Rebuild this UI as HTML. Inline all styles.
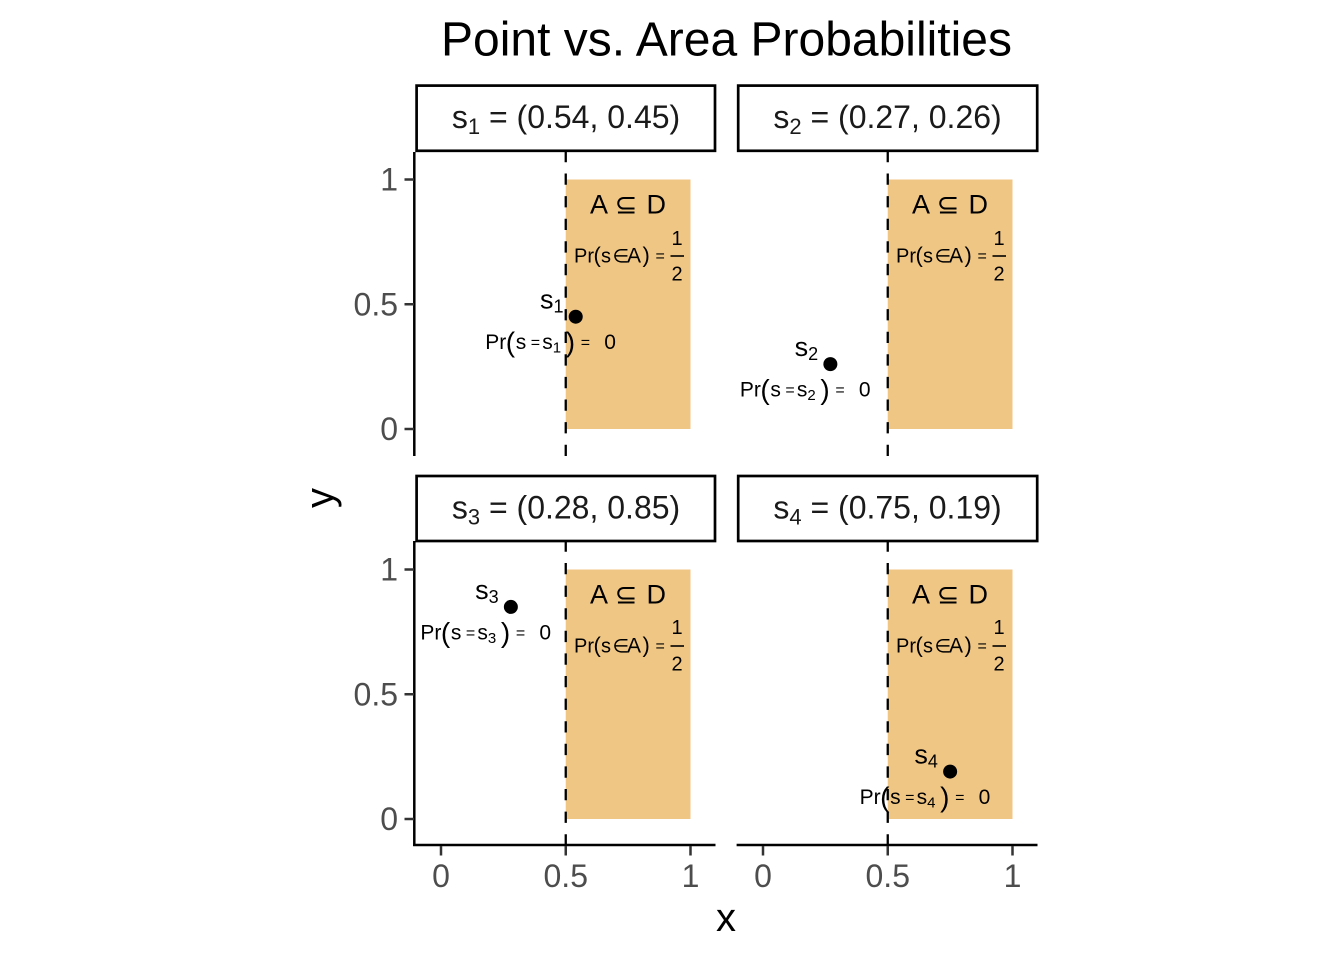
<!DOCTYPE html>
<html><head><meta charset="utf-8"><style>
html,body{margin:0;padding:0;background:#fff;}
svg{display:block;}
text{font-family:"Liberation Sans",Arial,"DejaVu Sans",sans-serif;}
.sym{font-family:"DejaVu Sans","Liberation Sans",sans-serif;}
.tick{fill:#4D4D4D;font-size:32px;}
</style></head><body>
<svg width="1344" height="960" viewBox="0 0 1344 960" xmlns="http://www.w3.org/2000/svg">
<rect x="0" y="0" width="1344" height="960" fill="#fff"/>

<!-- Title -->
<text x="726.5" y="55.5" text-anchor="middle" font-size="48" fill="#000">Point vs. Area Probabilities</text>

<!-- Strips -->
<g fill="#fff" stroke="#000" stroke-width="2.7">
<rect x="416.6" y="85.6" width="298.4" height="65.2"/>
<rect x="738.2" y="85.6" width="299" height="65.2"/>
<rect x="416.6" y="476" width="298.4" height="65"/>
<rect x="738.2" y="476" width="299" height="65"/>
</g>
<g font-size="32" fill="#1A1A1A" text-anchor="middle">
<text x="566" y="128">s<tspan font-size="22" dy="6">1</tspan><tspan dy="-6"> = (0.54, 0.45)</tspan></text>
<text x="887.5" y="128">s<tspan font-size="22" dy="6">2</tspan><tspan dy="-6"> = (0.27, 0.26)</tspan></text>
<text x="566" y="518.5">s<tspan font-size="22" dy="6">3</tspan><tspan dy="-6"> = (0.28, 0.85)</tspan></text>
<text x="887.5" y="518.5">s<tspan font-size="22" dy="6">4</tspan><tspan dy="-6"> = (0.75, 0.19)</tspan></text>
</g>

<!-- Panel 1 -->
<g transform="translate(441,429)">
<rect x="124.75" y="-249.5" width="124.75" height="249.5" fill="#F0C685"/>
<text x="149" y="-215.5" font-size="27">A</text>
<text class="sym" x="185" y="-215.5" font-size="27" text-anchor="middle">⊆</text>
<text x="205.5" y="-215.5" font-size="27">D</text>
<text x="133" y="-166.5" font-size="20">Pr</text>
<text x="152.5" y="-166.7" font-size="22">(</text>
<text x="160" y="-166.5" font-size="20">s</text>
<text class="sym" x="171.5" y="-166.5" font-size="19">∈</text>
<text x="186" y="-166.5" font-size="21">A</text>
<text x="201.5" y="-166.7" font-size="22">)</text>
<text x="214.5" y="-168" font-size="16">=</text>
<text x="236" y="-184" font-size="20" text-anchor="middle">1</text>
<line x1="229.5" y1="-173" x2="243" y2="-173" stroke="#000" stroke-width="1.6"/>
<text x="236" y="-148.3" font-size="20" text-anchor="middle">2</text>
<g transform="translate(134.73,-112.28)">
<text x="-24" y="-8" font-size="27" text-anchor="middle">s<tspan font-size="18" dy="4">1</tspan></text>
<text x="-90.5" y="32.5" font-size="21">Pr</text>
<text x="-70" y="35" font-size="28">(</text>
<text x="-60" y="32.5" font-size="21">s</text>
<text x="-45" y="31" font-size="16">=</text>
<text x="-33.5" y="32.5" font-size="21">s</text>
<text x="-23" y="36" font-size="15">1</text>
<text x="-10" y="35" font-size="28">)</text>
<text x="5" y="31" font-size="16">=</text>
<text x="28.5" y="32.5" font-size="21">0</text>
<circle cx="0" cy="0" r="7" fill="#000"/>
</g>
<line x1="124.75" y1="27" x2="124.75" y2="-277" stroke="#000" stroke-width="2.3" stroke-dasharray="11.3 11.3"/>
</g>

<!-- Panel 2 -->
<g transform="translate(763,429)">
<rect x="124.75" y="-249.5" width="124.75" height="249.5" fill="#F0C685"/>
<text x="149" y="-215.5" font-size="27">A</text>
<text class="sym" x="185" y="-215.5" font-size="27" text-anchor="middle">⊆</text>
<text x="205.5" y="-215.5" font-size="27">D</text>
<text x="133" y="-166.5" font-size="20">Pr</text>
<text x="152.5" y="-166.7" font-size="22">(</text>
<text x="160" y="-166.5" font-size="20">s</text>
<text class="sym" x="171.5" y="-166.5" font-size="19">∈</text>
<text x="186" y="-166.5" font-size="21">A</text>
<text x="201.5" y="-166.7" font-size="22">)</text>
<text x="214.5" y="-168" font-size="16">=</text>
<text x="236" y="-184" font-size="20" text-anchor="middle">1</text>
<line x1="229.5" y1="-173" x2="243" y2="-173" stroke="#000" stroke-width="1.6"/>
<text x="236" y="-148.3" font-size="20" text-anchor="middle">2</text>
<g transform="translate(67.37,-64.87)">
<text x="-24" y="-8" font-size="27" text-anchor="middle">s<tspan font-size="18" dy="4">2</tspan></text>
<text x="-90.5" y="32.5" font-size="21">Pr</text>
<text x="-70" y="35" font-size="28">(</text>
<text x="-60" y="32.5" font-size="21">s</text>
<text x="-45" y="31" font-size="16">=</text>
<text x="-33.5" y="32.5" font-size="21">s</text>
<text x="-23" y="36" font-size="15">2</text>
<text x="-10" y="35" font-size="28">)</text>
<text x="5" y="31" font-size="16">=</text>
<text x="28.5" y="32.5" font-size="21">0</text>
<circle cx="0" cy="0" r="7" fill="#000"/>
</g>
<line x1="124.75" y1="27" x2="124.75" y2="-277" stroke="#000" stroke-width="2.3" stroke-dasharray="11.3 11.3"/>
</g>

<!-- Panel 3 -->
<g transform="translate(441,819)">
<rect x="124.75" y="-249.5" width="124.75" height="249.5" fill="#F0C685"/>
<text x="149" y="-215.5" font-size="27">A</text>
<text class="sym" x="185" y="-215.5" font-size="27" text-anchor="middle">⊆</text>
<text x="205.5" y="-215.5" font-size="27">D</text>
<text x="133" y="-166.5" font-size="20">Pr</text>
<text x="152.5" y="-166.7" font-size="22">(</text>
<text x="160" y="-166.5" font-size="20">s</text>
<text class="sym" x="171.5" y="-166.5" font-size="19">∈</text>
<text x="186" y="-166.5" font-size="21">A</text>
<text x="201.5" y="-166.7" font-size="22">)</text>
<text x="214.5" y="-168" font-size="16">=</text>
<text x="236" y="-185" font-size="20" text-anchor="middle">1</text>
<line x1="229.5" y1="-173" x2="243" y2="-173" stroke="#000" stroke-width="1.6"/>
<text x="236" y="-148.3" font-size="20" text-anchor="middle">2</text>
<g transform="translate(69.86,-212.08)">
<text x="-24" y="-8" font-size="27" text-anchor="middle">s<tspan font-size="18" dy="4">3</tspan></text>
<text x="-90.5" y="32.5" font-size="21">Pr</text>
<text x="-70" y="35" font-size="28">(</text>
<text x="-60" y="32.5" font-size="21">s</text>
<text x="-45" y="31" font-size="16">=</text>
<text x="-33.5" y="32.5" font-size="21">s</text>
<text x="-23" y="36" font-size="15">3</text>
<text x="-10" y="35" font-size="28">)</text>
<text x="5" y="31" font-size="16">=</text>
<text x="28.5" y="32.5" font-size="21">0</text>
<circle cx="0" cy="0" r="7" fill="#000"/>
</g>
<line x1="124.75" y1="26.5" x2="124.75" y2="-277.5" stroke="#000" stroke-width="2.3" stroke-dasharray="11.3 11.3"/>
</g>

<!-- Panel 4 -->
<g transform="translate(763,819)">
<rect x="124.75" y="-249.5" width="124.75" height="249.5" fill="#F0C685"/>
<text x="149" y="-215.5" font-size="27">A</text>
<text class="sym" x="185" y="-215.5" font-size="27" text-anchor="middle">⊆</text>
<text x="205.5" y="-215.5" font-size="27">D</text>
<text x="133" y="-166.5" font-size="20">Pr</text>
<text x="152.5" y="-166.7" font-size="22">(</text>
<text x="160" y="-166.5" font-size="20">s</text>
<text class="sym" x="171.5" y="-166.5" font-size="19">∈</text>
<text x="186" y="-166.5" font-size="21">A</text>
<text x="201.5" y="-166.7" font-size="22">)</text>
<text x="214.5" y="-168" font-size="16">=</text>
<text x="236" y="-185" font-size="20" text-anchor="middle">1</text>
<line x1="229.5" y1="-173" x2="243" y2="-173" stroke="#000" stroke-width="1.6"/>
<text x="236" y="-148.3" font-size="20" text-anchor="middle">2</text>
<g transform="translate(187.13,-47.41)">
<text x="-24" y="-8" font-size="27" text-anchor="middle">s<tspan font-size="18" dy="4">4</tspan></text>
<text x="-90.5" y="32.5" font-size="21">Pr</text>
<text x="-70" y="35" font-size="28">(</text>
<text x="-60" y="32.5" font-size="21">s</text>
<text x="-45" y="31" font-size="16">=</text>
<text x="-33.5" y="32.5" font-size="21">s</text>
<text x="-23" y="36" font-size="15">4</text>
<text x="-10" y="35" font-size="28">)</text>
<text x="5" y="31" font-size="16">=</text>
<text x="28.5" y="32.5" font-size="21">0</text>
<circle cx="0" cy="0" r="7" fill="#000"/>
</g>
<line x1="124.75" y1="26.5" x2="124.75" y2="-277.5" stroke="#000" stroke-width="2.3" stroke-dasharray="11.3 11.3"/>
</g>

<!-- Axes lines -->
<g stroke="#000" stroke-width="2.5" fill="none">
<line x1="414.3" y1="152" x2="414.3" y2="456"/>
<line x1="414.3" y1="541" x2="414.3" y2="846"/>
<line x1="413.1" y1="845" x2="715.5" y2="845"/>
<line x1="736.6" y1="845" x2="1037.5" y2="845"/>
</g>
<!-- Ticks -->
<g stroke="#333" stroke-width="2.5">
<line x1="404.5" y1="179.5" x2="414" y2="179.5"/>
<line x1="404.5" y1="304.25" x2="414" y2="304.25"/>
<line x1="404.5" y1="429" x2="414" y2="429"/>
<line x1="404.5" y1="569.5" x2="414" y2="569.5"/>
<line x1="404.5" y1="694.25" x2="414" y2="694.25"/>
<line x1="404.5" y1="819" x2="414" y2="819"/>
<line x1="441" y1="846" x2="441" y2="855.5"/>
<line x1="565.75" y1="846" x2="565.75" y2="855.5"/>
<line x1="690.5" y1="846" x2="690.5" y2="855.5"/>
<line x1="763" y1="846" x2="763" y2="855.5"/>
<line x1="887.75" y1="846" x2="887.75" y2="855.5"/>
<line x1="1012.5" y1="846" x2="1012.5" y2="855.5"/>
</g>
<!-- Tick labels -->
<g class="tick" text-anchor="end">
<text x="398" y="190.5">1</text>
<text x="398" y="315.25">0.5</text>
<text x="398" y="440">0</text>
<text x="398" y="580.5">1</text>
<text x="398" y="705.25">0.5</text>
<text x="398" y="830">0</text>
</g>
<g class="tick" text-anchor="middle">
<text x="441" y="887">0</text>
<text x="565.75" y="887">0.5</text>
<text x="690.5" y="887">1</text>
<text x="763" y="887">0</text>
<text x="887.75" y="887">0.5</text>
<text x="1012.5" y="887">1</text>
</g>

<!-- Axis titles -->
<text x="726" y="931" text-anchor="middle" font-size="40" fill="#000">x</text>
<text transform="translate(333,498) rotate(-90)" x="0" y="0" text-anchor="middle" font-size="40" fill="#000">y</text>
</svg>
</body></html>
